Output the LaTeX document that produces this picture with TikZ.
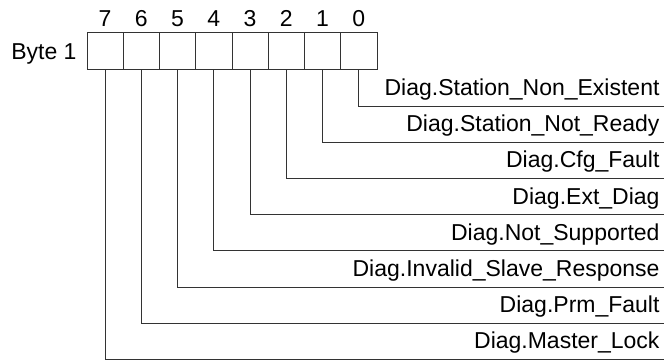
\documentclass[tikz,border=0pt]{standalone}
\usepackage{fontspec}
\setmainfont{Liberation Sans}
\usepackage{tikz}
\usetikzlibrary{positioning}

\begin{document}
\begin{tikzpicture}
            [x=1pt, y=-1pt, line width=1pt, draw=black!80,
             font=\fontsize{23}{27}\selectfont,
             cell/.style={draw=black!80, rectangle, minimum width=36.25pt, minimum height=37pt, inner sep=0pt},
             flag/.style={anchor=base east, inner sep=0pt}]
            \useasboundingbox (0,0) rectangle (664,360);

            % the byte: bit 7 left, bit 0 right
            \foreach \i in {7,...,0} {
                \node[cell] (c\i) at ({87+(7.5-\i)*36.25}, 51) {};
                \node[anchor=base, inner sep=0pt] (n\i) at ({87+(7.5-\i)*36.25}, 26.5) {\i};
            }
            \node[anchor=base east, inner sep=0pt] (byte) at (77, 59.5) {Byte 1};

            % one line per bit, text sits on the line
            \foreach \i/\txt in {0/Diag.Station\_Non\_Existent, 1/Diag.Station\_Not\_Ready,
                                 2/Diag.Cfg\_Fault, 3/Diag.Ext\_Diag, 4/Diag.Not\_Supported,
                                 5/Diag.Invalid\_Slave\_Response, 6/Diag.Prm\_Fault,
                                 7/Diag.Master\_Lock} {
                \coordinate (e\i) at (664, {106+\i*36.2});
                \node[flag] (t\i) at (660, {95.5+\i*36.2}) {\txt};
                \draw[black!80] (c\i.south) |- (e\i);
            }
        \end{tikzpicture}
\end{document}
